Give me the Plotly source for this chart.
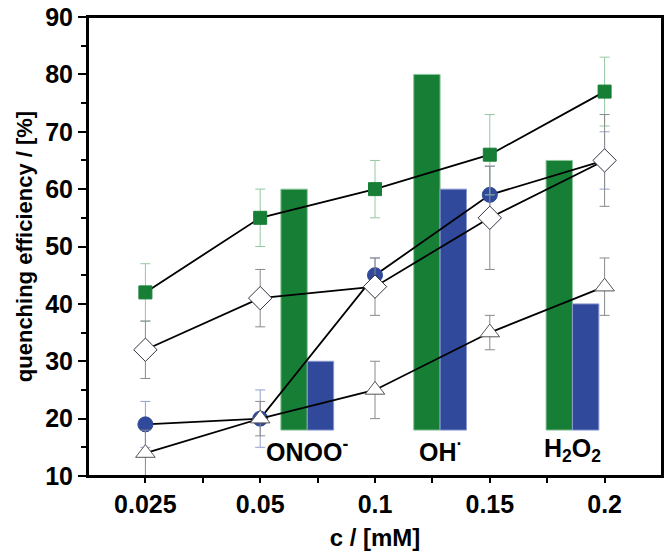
import plotly.graph_objects as go

# ---- data ----
conc_labels = ["0.025", "0.05", "0.1", "0.15", "0.2"]
xpos = [0, 1, 2, 3, 4]
y_ticks = [10, 20, 30, 40, 50, 60, 70, 80, 90]

sq_vals = [42, 55, 60, 66, 77]
sq_err = [5, 5, 5, 7, 6]
circ_vals = [19, 20, 45, 59, 65]
circ_err = [4, 5, 3, 5, 5]
dia_vals = [32, 41, 43, 55, 65]
dia_err = [5, 5, 5, 9, 8]
tri_vals = [14, 20, 25, 35, 43]
tri_err = [4, 3, 5, 3, 5]

species = ["ONOO<sup>-</sup>", "OH<sup>·</sup>", "H<sub>2</sub>O<sub>2</sub>"]
bar_centers = [1.41, 2.567, 3.72]
bar_green = [60, 80, 65]
bar_blue = [30, 60, 40]
bar_base = 18
label_y = 14.5

GREEN = "#177f35"
BLUE = "#30499a"
FONT = "Liberation Sans, Arial, sans-serif"

fig = go.Figure()

bw = 0.23
fig.add_trace(go.Bar(x=bar_centers, y=[v - bar_base for v in bar_green], base=bar_base,
                     width=bw, offset=-bw, marker=dict(color=GREEN, line=dict(color="#8cc79c", width=1)),
                     showlegend=False))
fig.add_trace(go.Bar(x=bar_centers, y=[v - bar_base for v in bar_blue], base=bar_base,
                     width=bw, offset=0, marker=dict(color=BLUE, line=dict(color="#8c9ad0", width=1)),
                     showlegend=False))

def series(vals, err, symbol, fill, edge, size, ecolor):
    fig.add_trace(go.Scatter(
        x=xpos, y=vals, mode="lines+markers",
        line=dict(color="black", width=1.8),
        marker=dict(symbol=symbol, size=size, color=fill, line=dict(color=edge, width=1)),
        error_y=dict(type="data", array=err, color=ecolor, thickness=1, width=5),
        showlegend=False, cliponaxis=True))

series(circ_vals, circ_err, "circle", BLUE, BLUE, 15, "#93a0cc")
series(sq_vals, sq_err, "square", GREEN, GREEN, 13, "#93c9a1")
series(dia_vals, dia_err, "diamond", "white", "#333344", 18, "#8a8a8a")
series(tri_vals, tri_err, "triangle-up", "white", "#555555", 17, "#8a8a8a")

for name, cx in zip(species, bar_centers):
    fig.add_annotation(x=cx, y=label_y, text=name, showarrow=False,
                       font=dict(family=FONT, size=25, color="black", weight="bold"),
                       xanchor="center", yanchor="middle")

# plot frame
fig.add_shape(type="rect", xref="paper", yref="paper", x0=0, y0=0, x1=1, y1=1,
              line=dict(color="black", width=2), layer="above")

fig.update_layout(
    width=667, height=554,
    margin=dict(l=88, r=3, t=12, b=78),
    paper_bgcolor="white", plot_bgcolor="white",
    font=dict(family=FONT, color="black", weight="bold"),
    barmode="overlay",
    xaxis=dict(range=[-0.5, 4.5], tickmode="array", tickvals=xpos, ticktext=conc_labels,
               ticks="outside", ticklen=5, tickwidth=1.5, tickcolor="black",
               minor=dict(tickmode="array", tickvals=[x + 0.5 for x in xpos[:-1]],
                          ticks="outside", ticklen=5, tickwidth=1.5, tickcolor="black"),
               showline=True, linecolor="black", linewidth=2, mirror=True,
               showgrid=False, zeroline=False, ticklabeloverflow="allow",
               tickfont=dict(family=FONT, size=25, weight="bold"),
               title=dict(text="c / [mM]", font=dict(family=FONT, size=24, weight="bold"), standoff=12)),
    yaxis=dict(range=[10, 90], tickmode="array", tickvals=y_ticks,
               ticktext=[str(v) for v in y_ticks],
               ticks="outside", ticklen=8, tickwidth=1.5, tickcolor="black",
               minor=dict(tickmode="array", tickvals=[v + 5 for v in y_ticks[:-1]], ticks="outside",
                          ticklen=5, tickwidth=1.5, tickcolor="black"),
               showline=True, linecolor="black", linewidth=2, mirror=True,
               showgrid=False, zeroline=False, ticklabeloverflow="allow",
               tickfont=dict(family=FONT, size=25, weight="bold"),
               title=dict(text="quenching efficiency / [%]",
                          font=dict(family=FONT, size=22, weight="bold"), standoff=6)),
)

fig.write_html("out.html", config={"displayModeBar": False},
               post_script="document.body.style.margin='0';")
